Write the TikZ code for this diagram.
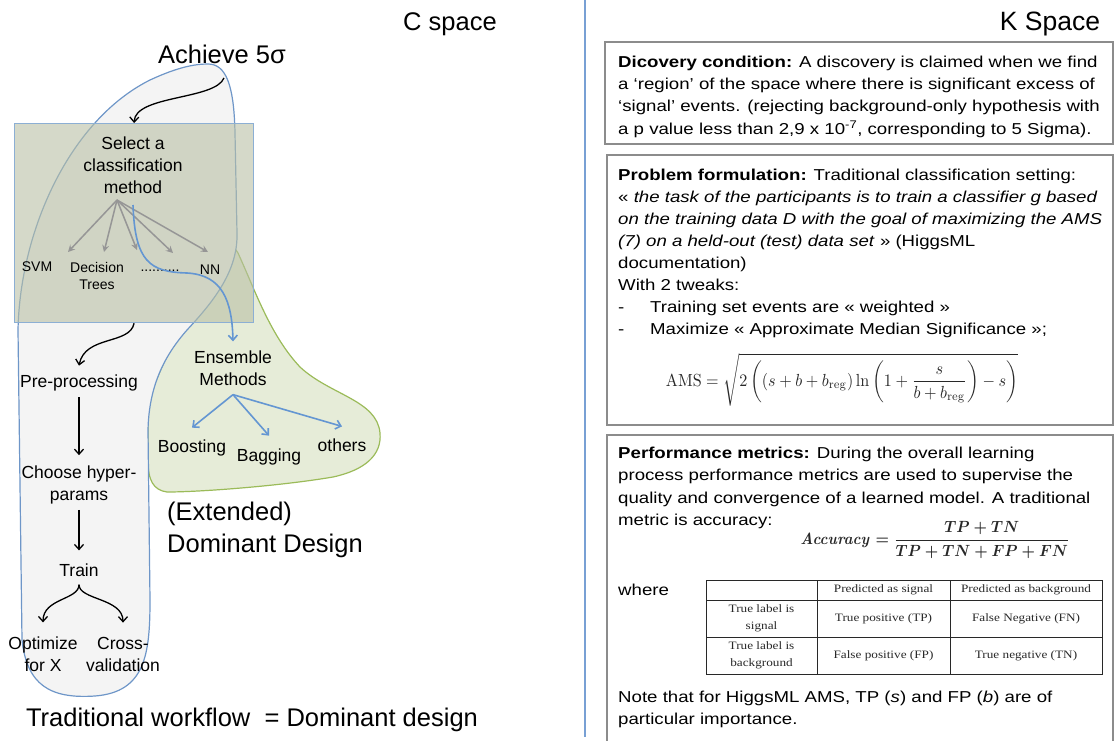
\documentclass[tikz,border=0pt]{standalone}
\usepackage[no-math]{fontspec}
\usepackage{graphicx}
\setmainfont{Liberation Sans}
\newfontfamily\boxfont{Liberation Sans}[FakeStretch=1.18]
\newfontfamily\tabfont{Liberation Serif}[FakeStretch=1.17]
\usetikzlibrary{arrows.meta}
\definecolor{blobblue}{RGB}{110,150,200}
\definecolor{blobgrey}{RGB}{244,244,244}
\definecolor{blobgreen}{RGB}{230,236,216}
\definecolor{greenline}{RGB}{155,187,89}
\definecolor{rectfill}{RGB}{185,192,165}
\definecolor{rectblue}{RGB}{140,175,212}
\definecolor{fangray}{RGB}{150,150,150}
\definecolor{arrowblue}{RGB}{100,150,210}
\definecolor{divblue}{RGB}{120,160,212}
\definecolor{boxgray}{RGB}{140,140,140}
\definecolor{formgray}{RGB}{40,40,40}
\begin{document}
\begin{tikzpicture}[x=1pt,y=-1pt,
  lbl/.style={inner sep=0pt, align=center, font=\fontsize{17.5}{22}\selectfont},
  smalllbl/.style={inner sep=0pt, align=center, font=\fontsize{14}{17}\selectfont},
  biglbl/.style={inner sep=0pt, font=\fontsize{25.5}{32}\selectfont},
  boxtext/.style={inner sep=0pt, align=left, anchor=north west, font=\boxfont\fontsize{15.8}{22.3}\selectfont},
  kbox/.style={draw=boxgray, line width=1.6pt},
  blackarrow/.style={-{Straight Barb[length=5pt,width=9pt]}, line width=1.3pt, black},
  grayarrow/.style={-{Stealth[length=7pt,width=7pt,inset=2.5pt]}, line width=1.5pt, fangray},
  bluearrow/.style={-{Straight Barb[length=5pt,width=9pt]}, line width=1.6pt, arrowblue},
  cell/.style={inner sep=0pt, align=center, text=formgray, font=\tabfont\fontsize{11.3}{17}\selectfont},
  tabline/.style={draw=formgray, line width=0.9pt}
]
\useasboundingbox (0,0) rectangle (1115,740);
\clip (0,0) rectangle (1115,740);

% ---------- left blobs ----------
\path[fill=blobgreen, draw=greenline, line width=1.2pt]
  (226,235) -- (238,253) .. controls (255,290) and (270,335) .. (300,367)
  .. controls (330,395) and (377,400) .. (380,433)
  .. controls (382,455) and (365,470) .. (333,477)
  .. controls (280,486) and (200,492) .. (167,492)
  .. controls (153,490) and (148,480) .. (148,460) -- (148,400) -- (190,300) -- cycle;
\path[fill=blobgrey, draw=blobblue, line width=1.2pt]
  (208,64) .. controls (226,64) and (234,85) .. (235,133) -- (237,233)
  .. controls (238,270) and (215,300) .. (187,330)
  .. controls (165,355) and (149,385) .. (148,430) -- (150,600)
  .. controls (150,655) and (145,692) .. (95,696)
  .. controls (50,699) and (27,685) .. (22,640) -- (18,330)
  .. controls (20,230) and (70,120) .. (150,80)
  .. controls (178,67) and (195,64) .. (208,64) -- cycle;
\node[draw=rectblue, line width=1.2pt, fill=rectfill, fill opacity=0.6,
      minimum width=239pt, minimum height=199pt, inner sep=0pt, anchor=north west] (rect) at (14,123) {};

% ---------- titles ----------
\node[biglbl] (cspace) at (450,24) {C space};
\node[biglbl, font=\fontsize{26.5}{32}\selectfont] (kspace) at (1050,24) {K Space};
\node[biglbl] (achieve) at (222,54) {Achieve 5σ};
\node[biglbl, align=left, anchor=west] (ext) at (167,530) {(Extended)\\Dominant Design};
\node[biglbl] (trad) at (252,720) {Traditional workflow \ = Dominant design};

% ---------- workflow ----------
\node[lbl] (select) at (133,165) {Select a\\classification\\method};
\node[smalllbl] (svm) at (37,267) {SVM};
\node[smalllbl] (dec) at (97,276) {Decision\\Trees};
\node[smalllbl] (dots) at (160,271) {..........};
\node[smalllbl] (nn) at (210,270) {NN};
\node[lbl] (pre) at (79,383) {Pre-processing};
\node[lbl] (choose) at (79,484.5) {Choose hyper-\\params};
\node[lbl] (train) at (79,570) {Train};
\node[lbl] (opt) at (43,654) {Optimize\\for X};
\node[lbl] (cross) at (123,654) {Cross-\\validation};
\node[lbl, inner ysep=9pt] (ens) at (233,368) {Ensemble\\Methods};
\node[lbl] (boost) at (192,448) {Boosting};
\node[lbl] (bag) at (269,457) {Bagging};
\node[lbl] (others) at (342,445) {others};

\coordinate (achS) at (224,78);
\coordinate (fan) at (117,200);
\coordinate (t1) at (68,252);
\coordinate (t2) at (104,252);
\coordinate (t3) at (137,250);
\coordinate (t4) at (173,253);
\coordinate (t5) at (208,252);
\coordinate (bstart) at (133,205);

\draw[blackarrow] (achS) .. controls (215,100) and (135,95) .. (rect.north);
\foreach \t in {t1,t2,t3,t4,t5} \draw[grayarrow] (fan) -- (\t);
\draw[bluearrow] (bstart) .. controls (135,262) and (150,272) .. (187,273)
  .. controls (222,275) and (232,300) .. (ens.north);
\draw[blackarrow] (rect.south) .. controls (130,345) and (85,335) .. ([yshift=9pt]pre.north);
\draw[blackarrow] ([yshift=-6pt]pre.south) -- ([yshift=10pt]choose.north);
\draw[blackarrow] ([yshift=-6pt]choose.south) -- ([yshift=13pt]train.north);
\draw[blackarrow] ([yshift=-8pt]train.south) .. controls (79,600) and (43,598) .. ([yshift=14pt]opt.north);
\draw[blackarrow] ([yshift=-8pt]train.south) .. controls (79,600) and (123,598) .. ([yshift=14pt]cross.north);
\draw[bluearrow] (ens.south) -- ([yshift=12pt]boost.north);
\draw[bluearrow] (ens.south) -- ([yshift=13pt]bag.north);
\draw[bluearrow] (ens.south) -- ([yshift=12pt]others.north);

% ---------- divider ----------
\coordinate (divtop) at (585,0);
\coordinate (divbot) at (585,737);
\draw[divblue, line width=1.6pt] (divtop) -- (divbot);

% ---------- K space boxes ----------
\draw[kbox] (605,42) rectangle (1113,144);
\draw[kbox] (607,155) rectangle (1113,425);
\draw[kbox] (607,435) rectangle (1113,760);

\node[boxtext] (disc) at (618,55.5) {\textbf{Dicovery condition:} A discovery is claimed when we find\\
a ‘region’ of the space where there is significant excess of\\
‘signal’ events. (rejecting background-only hypothesis with\\
a p value less than 2,9 x 10\textsuperscript{-7}, corresponding to 5 Sigma).};

\node[boxtext, font=\boxfont\fontsize{15.8}{22}\selectfont] (prob) at (618,169) {\textbf{Problem formulation:} Traditional classification setting:\\
« \textit{the task of the participants is to train a classifier g based}\\
\textit{on the training data D with the goal of maximizing the AMS}\\
\textit{(7) on a held-out (test) data set} » (HiggsML\\
documentation)\\
With 2 tweaks:\\
\makebox[32pt][l]{-}Training set events are « weighted »\\
\makebox[32pt][l]{-}Maximize « Approximate Median Significance »;};

\node[inner sep=0pt, text=formgray] (ams) at (842,380)
  {\scalebox{1.61}[1.75]{$\displaystyle \mathrm{AMS}=\sqrt{2\left(\left(s+b+b_{\mathrm{reg}}\right)\ln\left(1+\frac{s}{b+b_{\mathrm{reg}}}\right)-s\right)}$}};

\node[boxtext] (perf) at (618,447) {\textbf{Performance metrics:} During the overall learning\\
process performance metrics are used to supervise the\\
quality and convergence of a learned model. A traditional\\
metric is accuracy:};

\node[inner sep=0pt, text=formgray] (acc) at (935,540)
  {\scalebox{1.51}[1.62]{\boldmath$\displaystyle \mathit{Accuracy}=\frac{TP+TN}{TP+TN+FP+FN}$}};

\node[inner sep=0pt, anchor=base west, font=\boxfont\fontsize{15.8}{22}\selectfont] (where) at (618,595.5) {where};

% table
\draw[tabline] (706,580) rectangle (1102,674);
\draw[tabline] (706,600) -- (1102,600);
\draw[tabline] (706,637) -- (1102,637);
\draw[tabline] (817,580) -- (817,674);
\draw[tabline] (950,580) -- (950,674);
\node[cell] (h2) at (883.5,590) {Predicted as signal};
\node[cell] (h3) at (1026,590) {Predicted as background};
\node[cell] (r1c1) at (761.5,618.5) {True label is\\signal};
\node[cell] (r1c2) at (883.5,618.5) {True positive (TP)};
\node[cell] (r1c3) at (1026,618.5) {False Negative (FN)};
\node[cell] (r2c1) at (761.5,655.5) {True label is\\background};
\node[cell] (r2c2) at (883.5,655.5) {False positive (FP)};
\node[cell] (r2c3) at (1026,655.5) {True negative (TN)};

\node[boxtext, font=\boxfont\fontsize{15.8}{22}\selectfont] (note) at (618,691) {Note that for HiggsML AMS, TP (\textit{s}) and FP (\textit{b}) are of\\
particular importance.};
\end{tikzpicture}
\end{document}
